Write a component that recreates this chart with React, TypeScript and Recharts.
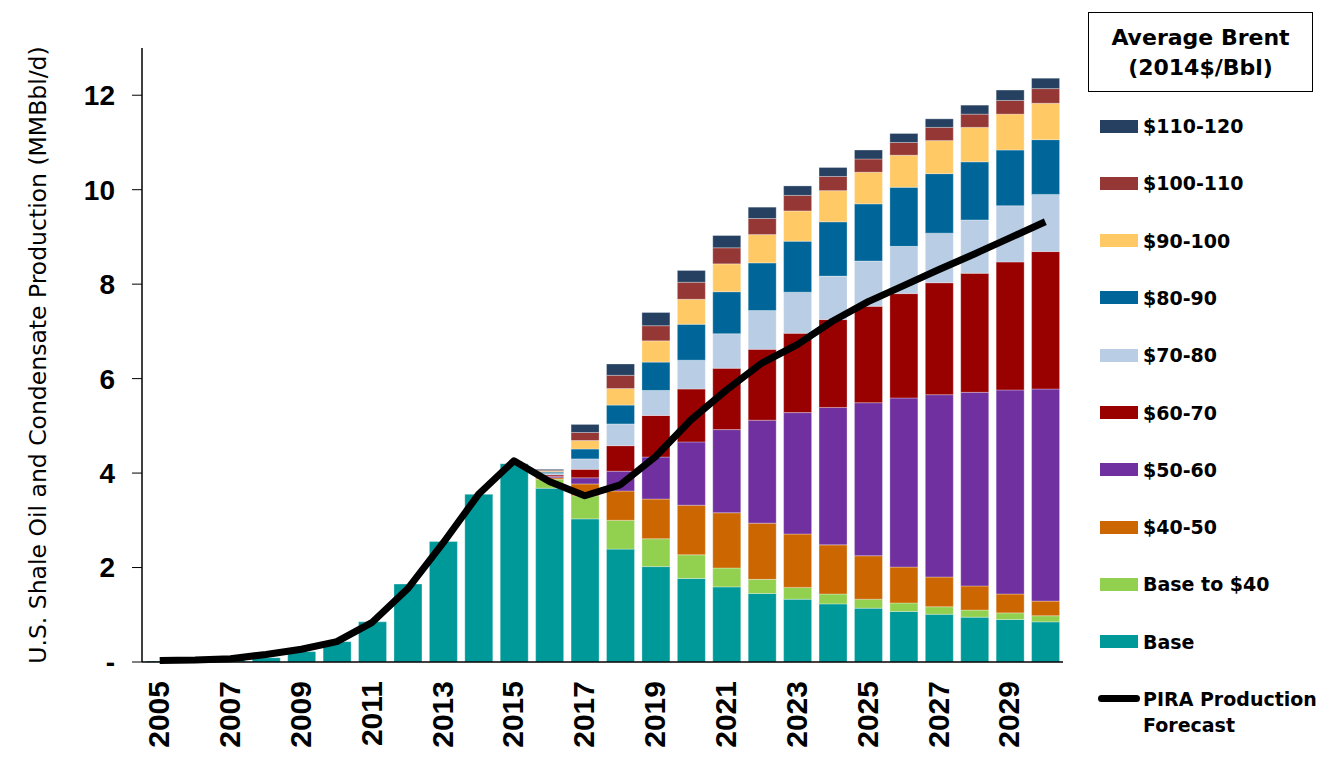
import React from 'react';
import { Bar, CartesianGrid, ComposedChart, Line, XAxis, YAxis } from 'recharts';

const years = [
  2005, 2006, 2007, 2008, 2009, 2010, 2011, 2012, 2013, 2014, 2015, 2016, 2017,
  2018, 2019, 2020, 2021, 2022, 2023, 2024, 2025, 2026, 2027, 2028, 2029, 2030,
];

// MMBbl/d increments per price band
const base = [
  0.02, 0.03, 0.05, 0.09, 0.22, 0.43, 0.85, 1.65, 2.55, 3.55, 4.2, 3.68, 3.03,
  2.39, 2.02, 1.77, 1.59, 1.45, 1.33, 1.23, 1.14, 1.07, 1.01, 0.95, 0.9, 0.85,
];
const baseTo40 = [
  0, 0, 0, 0, 0, 0, 0, 0, 0, 0, 0, 0.19, 0.49,
  0.61, 0.59, 0.5, 0.4, 0.3, 0.25, 0.21, 0.19, 0.18, 0.16, 0.15, 0.14, 0.13,
];
const band40 = [
  0, 0, 0, 0, 0, 0, 0, 0, 0, 0, 0, 0.03, 0.25,
  0.62, 0.84, 1.05, 1.17, 1.19, 1.13, 1.04, 0.92, 0.76, 0.63, 0.51, 0.4, 0.31,
];
const band50 = [
  0, 0, 0, 0, 0, 0, 0, 0, 0, 0, 0, 0.03, 0.13,
  0.42, 0.89, 1.34, 1.76, 2.18, 2.57, 2.91, 3.24, 3.58, 3.86, 4.1, 4.32, 4.49,
];
const band60 = [
  0, 0, 0, 0, 0, 0, 0, 0, 0, 0, 0, 0.03, 0.18,
  0.54, 0.88, 1.12, 1.3, 1.5, 1.68, 1.86, 2.04, 2.21, 2.37, 2.52, 2.71, 2.91,
];
const band70 = [
  0, 0, 0, 0, 0, 0, 0, 0, 0, 0, 0, 0.03, 0.22,
  0.46, 0.53, 0.61, 0.73, 0.82, 0.87, 0.92, 0.96, 1.0, 1.05, 1.13, 1.19, 1.21,
];
const band80 = [
  0, 0, 0, 0, 0, 0, 0, 0, 0, 0, 0, 0.03, 0.21,
  0.4, 0.6, 0.76, 0.89, 1.01, 1.08, 1.15, 1.21, 1.25, 1.26, 1.23, 1.18, 1.16,
];
const band90 = [
  0, 0, 0, 0, 0, 0, 0, 0, 0, 0, 0, 0.02, 0.18,
  0.35, 0.45, 0.53, 0.59, 0.6, 0.64, 0.66, 0.67, 0.68, 0.7, 0.73, 0.76, 0.77,
];
const band100 = [
  0, 0, 0, 0, 0, 0, 0, 0, 0, 0, 0, 0.02, 0.17,
  0.28, 0.32, 0.36, 0.34, 0.34, 0.33, 0.3, 0.28, 0.27, 0.28, 0.28, 0.29, 0.31,
];
const band110 = [
  0, 0, 0, 0, 0, 0, 0, 0, 0, 0, 0, 0.02, 0.17,
  0.24, 0.28, 0.25, 0.26, 0.24, 0.2, 0.19, 0.19, 0.19, 0.18, 0.19, 0.22, 0.22,
];
const piraForecast = [
  0.03, 0.04, 0.07, 0.16, 0.27, 0.43, 0.84, 1.55, 2.52, 3.55, 4.26, 3.82, 3.52,
  3.75, 4.35, 5.13, 5.76, 6.33, 6.72, 7.22, 7.63, 7.97, 8.31, 8.64, 8.98, 9.32,
];

const yTicks = [0, 2, 4, 6, 8, 10, 12];

const bands = [
  { key: 'base', label: 'Base', color: '#009999', values: base },
  { key: 'baseTo40', label: 'Base to $40', color: '#92D050', values: baseTo40 },
  { key: 'b40', label: '$40-50', color: '#CC6600', values: band40 },
  { key: 'b50', label: '$50-60', color: '#7030A0', values: band50 },
  { key: 'b60', label: '$60-70', color: '#990000', values: band60 },
  { key: 'b70', label: '$70-80', color: '#B9CDE5', values: band70 },
  { key: 'b80', label: '$80-90', color: '#006699', values: band80 },
  { key: 'b90', label: '$90-100', color: '#FFCA66', values: band90 },
  { key: 'b100', label: '$100-110', color: '#953735', values: band100 },
  { key: 'b110', label: '$110-120', color: '#254061', values: band110 },
];

const data = years.map((year, i) => {
  const row: Record<string, number | string> = { year: String(year), pira: piraForecast[i] };
  bands.forEach((b) => {
    row[b.key] = b.values[i];
  });
  return row;
});

const FONT = '"DejaVu Sans", Verdana, sans-serif';
const NUM_FONT = '"Liberation Sans", Arial, sans-serif';

function YearTick({ x, y, payload }: any) {
  const ty = y + 11;
  return (
    <text
      x={x - 1}
      y={ty}
      transform={`rotate(-90, ${x - 1}, ${ty})`}
      textAnchor="end"
      dominantBaseline="central"
      fontFamily={NUM_FONT}
      fontWeight="bold"
      fontSize={30}
      fill="#000"
    >
      {payload.value}
    </text>
  );
}

function Legend() {
  const items = [...bands].reverse();
  return (
    <div style={{ position: 'absolute', left: 1088, top: 12, fontFamily: FONT, color: '#000' }}>
      <div
        style={{
          width: 225,
          height: 80,
          border: '1px solid #000',
          textAlign: 'center',
          fontWeight: 'bold',
          fontSize: 22,
          lineHeight: '30px',
          paddingTop: 10,
          boxSizing: 'border-box',
        }}
      >
        Average Brent
        <br />
        (2014$/Bbl)
      </div>
      {items.map((b, i) => (
        <div
          key={b.key}
          style={{ position: 'absolute', left: 12, top: 102 + i * 57.3, height: 24, display: 'flex', alignItems: 'center' }}
        >
          <div style={{ width: 38, height: 13, background: b.color }} />
          <span style={{ marginLeft: 5, fontWeight: 'bold', fontSize: 19, whiteSpace: 'nowrap' }}>{b.label}</span>
        </div>
      ))}
      <div style={{ position: 'absolute', left: 10, top: 674, display: 'flex', alignItems: 'flex-start' }}>
        <div style={{ width: 42, height: 7, background: '#000', borderRadius: 4, marginTop: 9 }} />
        <span style={{ marginLeft: 3, fontWeight: 'bold', fontSize: 19, lineHeight: '26px', whiteSpace: 'nowrap' }}>
          PIRA Production
          <br />
          Forecast
        </span>
      </div>
    </div>
  );
}

export default function App() {
  return (
    <div style={{ position: 'absolute', left: 0, top: 0, width: 1332, height: 777, background: '#fff' }}>
      <ComposedChart
        width={1080}
        height={777}
        data={data}
        margin={{ top: 48, right: 17, bottom: 0, left: 0 }}
        barSize={28}
      >
        <CartesianGrid stroke="none" />
        <XAxis
          dataKey="year"
          interval={1}
          tickLine={false}
          axisLine={{ stroke: '#000', strokeWidth: 1.5 }}
          height={115}
          tick={<YearTick />}
        />
        <YAxis
          width={142}
          domain={[0, 13]}
          ticks={yTicks}
          tickSize={10}
          tickMargin={17}
          tickLine={{ stroke: '#000' }}
          axisLine={{ stroke: '#000', strokeWidth: 1.5 }}
          tickFormatter={(v) => (Number(v) === 0 ? '-' : String(v))}
          tick={{ fill: '#000', fontFamily: NUM_FONT, fontWeight: 'bold', fontSize: 28 }}
          label={{
            value: 'U.S. Shale Oil and Condensate Production (MMBbl/d)',
            angle: -90,
            position: 'insideLeft',
            dx: 33,
            style: { textAnchor: 'middle', fontFamily: FONT, fontSize: 23.5, fill: '#000' },
          }}
        />
        {bands.map((b) => (
          <Bar
            key={b.key}
            dataKey={b.key}
            stackId="prod"
            fill={b.color}
            stroke="#ffffff"
            strokeOpacity={0.5}
            strokeWidth={0.6}
            isAnimationActive={false}
          />
        ))}
        <Line
          type="linear"
          dataKey="pira"
          stroke="#000"
          strokeWidth={7}
          strokeLinejoin="round"
          dot={false}
          activeDot={false}
          isAnimationActive={false}
        />
      </ComposedChart>
      <Legend />
    </div>
  );
}
